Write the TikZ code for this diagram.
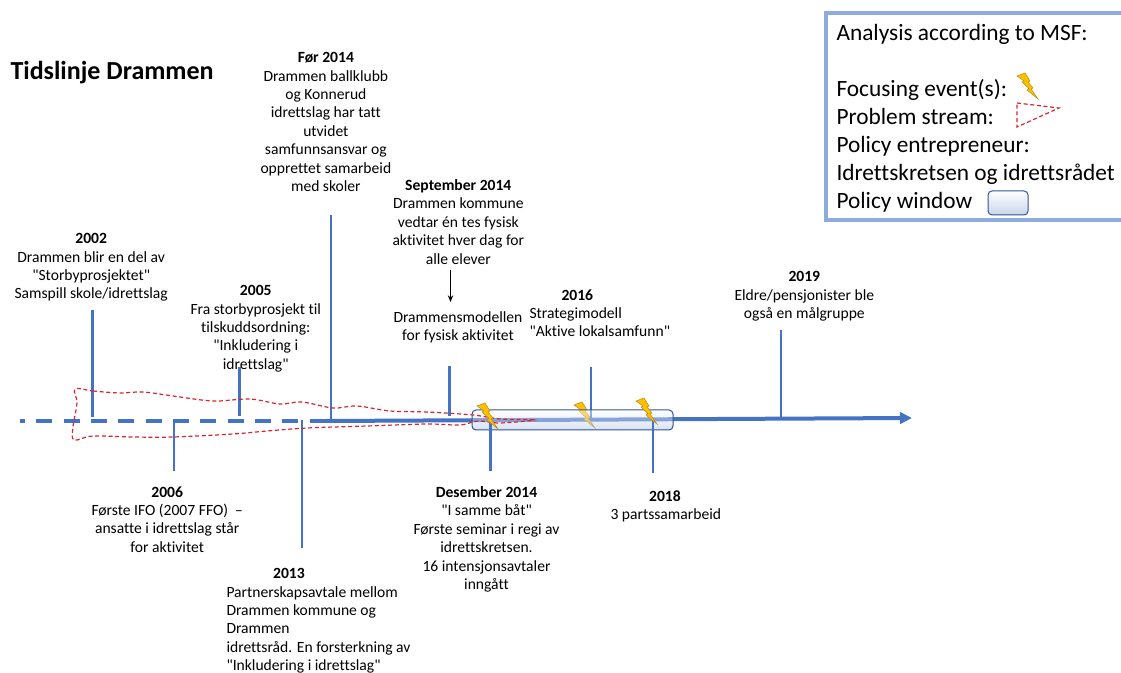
\documentclass[tikz,border=0pt]{standalone}
\usepackage{fontspec}
\newfontfamily\carlito{Carlito}[Ligatures=NoCommon]
\usetikzlibrary{arrows.meta}

\tikzset{every picture/.style={line width=0.75pt}}
\definecolor{lineblue}{RGB}{68,114,196}
\definecolor{frameblue}{RGB}{143,170,220}
\definecolor{streamred}{RGB}{217,37,47}
\definecolor{boltyellow}{RGB}{255,192,0}
\tikzset{
  tick/.style={draw=lineblue,line width=2.1pt},
  txt/.style={anchor=north west,inner sep=0.75pt,font=\carlito\fontsize{11.7}{13.8}\selectfont},
  big/.style={anchor=north west,inner sep=0.75pt,font=\carlito\fontsize{17.5}{21}\selectfont},
  stream/.style={draw=streamred,densely dashed,line width=0.9pt},
  window/.style={draw={rgb,255:red,47;green,85;blue,151},rounded corners=3,top color=white,bottom color={rgb,255:red,170;green,190;blue,225},fill opacity=0.45},
  bolt/.pic={\draw [fill=boltyellow,draw={rgb,255:red,190;green,140;blue,20},line width=0.4pt] (0,3) -- (8,0) -- (13,8) -- (11,9) -- (16,15) -- (14,16) -- (21,26) -- (10,17) -- (12,15.5) -- (5,9) -- (7,8) -- cycle ;}
}

\begin{document}
\begin{tikzpicture}[x=0.75pt,y=0.75pt,yscale=-1,xscale=1]
\useasboundingbox (0,0) rectangle (1121,673);

%Timeline ends
\coordinate (startdash) at (20,421);
\coordinate (enddash) at (326,421);
\coordinate (endline) at (912,418);
%Tick ends
\coordinate (a2002) at (92.5,310); \coordinate (b2002) at (92.5,417);
\coordinate (a2005) at (239.5,367); \coordinate (b2005) at (239.5,416);
\coordinate (a2006) at (174,420); \coordinate (b2006) at (174,471);
\coordinate (a2013) at (302,420); \coordinate (b2013) at (302,548);
\coordinate (a2014) at (331,215); \coordinate (b2014) at (331,420);
\coordinate (asep) at (449.5,366); \coordinate (bsep) at (449.5,416);
\coordinate (ades) at (490.5,420); \coordinate (bdes) at (490.5,471);
\coordinate (a2016) at (591,367); \coordinate (b2016) at (591,420);
\coordinate (a2018) at (653,420); \coordinate (b2018) at (653,473);
\coordinate (a2019) at (781,330); \coordinate (b2019) at (781,418);

%Timeline
\draw [draw=lineblue,line width=3pt,dash pattern=on 12pt off 8.5pt,dash phase=8.2pt] (startdash) -- (enddash) ;
\draw [draw=lineblue,line width=3pt,-{Triangle[length=9pt,width=8.5pt]}] (enddash) -- (endline) ;

%Straight Lines
\draw [tick] (a2016) -- (b2016) ;
%Bolt under the window
\pic [transform shape] at (574,402) {bolt};
%Shape: Window
\path [window] (472,410) rectangle (673,430) ;

%Straight Lines
\draw [tick] (a2002) -- (b2002) ;
\draw [tick] (a2005) -- (b2005) ;
\draw [tick] (a2006) -- (b2006) ;
\draw [tick] (a2013) -- (b2013) ;
\draw [tick] (a2014) -- (b2014) ;
\draw [tick] (asep) -- (bsep) ;
\draw [tick] (ades) -- (bdes) ;
\draw [tick] (a2018) -- (b2018) ;
\draw [tick] (a2019) -- (b2019) ;

%Shape: Stream
\draw [stream] plot [smooth cycle,tension=0.55] coordinates {(75,389) (93,391) (120,393) (143,392) (173,396) (213,401) (250,399) (280,404) (302,402) (333,408) (357,406) (390,411) (427,412) (473,415) (500,419) (534,420) (500,423) (478,421) (460,425) (427,424) (367,426) (307,428) (267,431) (233,434) (173,437) (133,437) (93,436) (74,440) (73,427) (77,403)};

%Bolts
\pic [transform shape] at (477,403) {bolt};
\pic [transform shape] at (636,398) {bolt};

%Shape: Legend frame
\draw [draw=frameblue,line width=2.6pt] (1121,13) -- (826,13) -- (826,220) -- (1121,220) ;
\pic [transform shape] at (1017,73) {bolt};
\draw [stream] (1017,103) -- (1059,108) -- (1017,127) -- cycle ;
\path [window,fill opacity=1,bottom color={rgb,255:red,200;green,213;blue,236}] (988,191) rectangle (1028,215) ;

% Text Node
\draw (9,60) node (title) [anchor=north west,inner sep=0.75pt,font=\carlito\fontsize{19.5}{24}\selectfont\bfseries] {Tidslinje Drammen};
% Text Node
\draw (259,51) node (n2014) [txt,align=center] {\textbf{Før 2014}\\Drammen ballklubb\\og Konnerud\\idrettslag har tatt\\utvidet\\samfunnsansvar og\\opprettet samarbeid\\med skoler};
% Text Node
\draw (13,232) node (n2002) [txt,align=center] {\textbf{2002}\\Drammen blir en del av\\"Storbyprosjektet"\\Samspill skole/idrettslag};
% Text Node
\draw (189,284) node (n2005) [txt,align=center] {\textbf{2005}\\Fra storbyprosjekt til\\tilskuddsordning:\\"Inkludering i\\idrettslag"};
% Text Node
\draw (391,178) node (nsep) [txt,align=center] {\textbf{September 2014}\\Drammen kommune\\vedtar én tes fysisk\\aktivitet hver dag for\\alle elever};
% Text Node
\draw (392,310) node (nmodel) [txt,align=center] {Drammensmodellen\\for fysisk aktivitet};
% Text Node
\draw (528,288) node (n2016) [txt,align=left] {\hspace*{24pt}\textbf{2016}\\Strategimodell\\"Aktive lokalsamfunn"};
% Text Node
\draw (733,270) node (n2019) [txt,align=center] {\textbf{2019}\\Eldre/pensjonister ble\\også en målgruppe};
% Text Node
\draw (90,485) node (n2006) [txt,align=center] {\textbf{2006}\\Første IFO (2007 FFO)\ \ –\\ansatte i idrettslag står\\for aktivitet};
% Text Node
\draw (225,567) node (n2013) [txt,align=left] {\hspace*{35pt}\textbf{2013}\\Partnerskapsavtale mellom\\Drammen kommune og\\Drammen\\idrettsråd. En forsterkning av\\"Inkludering i idrettslag"};
% Text Node
\draw (412,485) node (ndes) [txt,align=center] {\textbf{Desember 2014}\\"I samme båt"\\Første seminar i regi av\\idrettskretsen.\\16 intensjonsavtaler\\inngått};
% Text Node
\draw (609,489) node (n2018) [txt,align=left] {\hspace*{29pt}\textbf{2018}\\3 partssamarbeid};
% Text Node
\draw (835,23) node (nlegend) [big,align=left] {Analysis according to MSF:\\\mbox{}\\Focusing event(s):\\Problem stream:\\Policy entrepreneur:\\Idrettskretsen og idrettsrådet\\Policy window};

%Straight Lines
\draw [-{Stealth[length=5pt,width=4pt]},line width=0.6pt] ([xshift=-5.6pt,yshift=3pt]nsep.south -| nmodel.north) -- ([xshift=-5.6pt,yshift=-6pt]nmodel.north) ;

\end{tikzpicture}
\end{document}
